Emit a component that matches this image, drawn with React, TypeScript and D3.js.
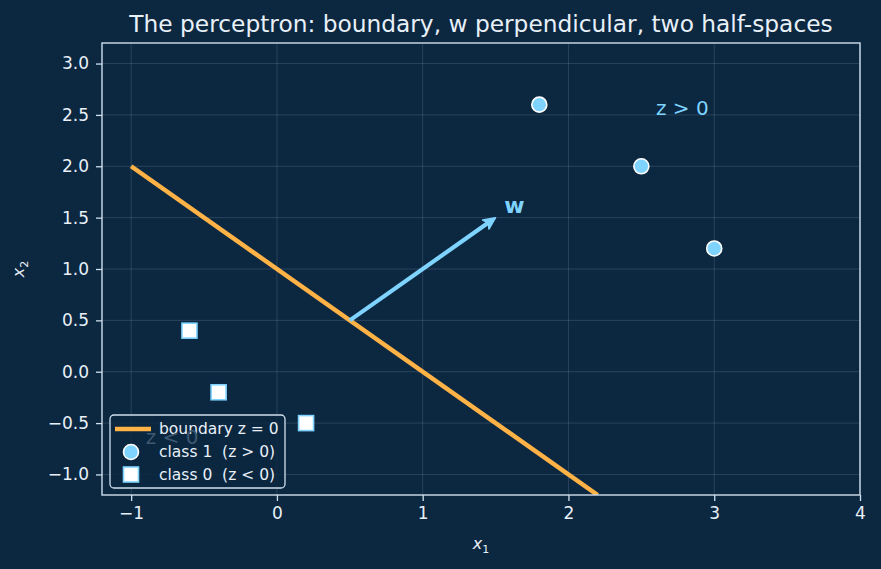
import React, { useEffect, useRef } from 'react';
import * as d3 from 'd3';

// points on either side of the boundary x1 + x2 = 1
const class1X = [1.8, 2.5, 3.0];
const class1Y = [2.6, 2.0, 1.2];
const class0X = [-0.6, -0.4, 0.2];
const class0Y = [0.4, -0.2, -0.5];
const boundaryX = [-1.0, 2.2];
const boundaryY = [2.0, -1.2];
const wStart = [0.5, 0.5];
const wEnd = [1.5, 1.5];
const xTicks = [-1, 0, 1, 2, 3, 4];
const yTicks = [-1.0, -0.5, 0.0, 0.5, 1.0, 1.5, 2.0, 2.5, 3.0];
const legendLabels = ['boundary z = 0', 'class 1  (z > 0)', 'class 0  (z < 0)'];

const BG = '#0c2740';
const FG = '#e8f0f8';
const ORANGE = '#ffb347';
const BLUE = '#7fd3ff';

export default function App() {
  const svgRef = useRef<SVGSVGElement>(null);

  useEffect(() => {
    const svg = d3.select(svgRef.current);
    svg.selectAll('*').remove();

    const W = 881, H = 569;
    const margin = { top: 43, right: 21, bottom: 74, left: 102 };
    const x = d3.scaleLinear().domain([-1.2, 4]).range([margin.left, W - margin.right]);
    const y = d3.scaleLinear().domain([-1.2, 3.2]).range([H - margin.bottom, margin.top]);
    const font = 'DejaVu Sans, sans-serif';

    svg.append('rect').attr('width', W).attr('height', H).attr('fill', BG);

    svg.append('defs').append('clipPath').attr('id', 'plot')
      .append('rect')
      .attr('x', margin.left).attr('y', margin.top)
      .attr('width', W - margin.left - margin.right)
      .attr('height', H - margin.top - margin.bottom);

    // grid
    const grid = svg.append('g').attr('stroke', '#9fb4c8').attr('stroke-opacity', 0.25).attr('stroke-width', 0.8);
    xTicks.forEach(t => grid.append('line').attr('x1', x(t)).attr('x2', x(t)).attr('y1', y(-1.2)).attr('y2', y(3.2)));
    yTicks.forEach(t => grid.append('line').attr('y1', y(t)).attr('y2', y(t)).attr('x1', x(-1.2)).attr('x2', x(4)));

    const plot = svg.append('g').attr('clip-path', 'url(#plot)');

    // region label for the positive side
    plot.append('text').attr('x', x(2.6)).attr('y', y(2.5)).attr('fill', BLUE)
      .attr('font-family', font).attr('font-size', 20).text('z > 0');

    // decision boundary
    plot.append('line')
      .attr('x1', x(boundaryX[0])).attr('y1', y(boundaryY[0]))
      .attr('x2', x(boundaryX[1])).attr('y2', y(boundaryY[1]))
      .attr('stroke', ORANGE).attr('stroke-width', 4.5);

    // weight vector arrow
    const x0 = x(wStart[0]), y0 = y(wStart[1]), x1 = x(wEnd[0]), y1 = y(wEnd[1]);
    const ang = Math.atan2(y1 - y0, x1 - x0);
    const ca = Math.cos(ang), sa = Math.sin(ang);
    const head = 12;
    const bx = x1 - head * ca, by = y1 - head * sa;
    plot.append('line').attr('x1', x0).attr('y1', y0).attr('x2', bx + 3 * ca).attr('y2', by + 3 * sa)
      .attr('stroke', BLUE).attr('stroke-width', 4.2);
    const px = -sa, py = ca;
    plot.append('path')
      .attr('d', `M${x1},${y1} L${bx + 5.5 * px},${by + 5.5 * py} L${bx + 3 * ca},${by + 3 * sa} L${bx - 5.5 * px},${by - 5.5 * py} Z`)
      .attr('fill', BLUE).attr('stroke', BLUE).attr('stroke-width', 1.5).attr('stroke-linejoin', 'round');
    plot.append('text').attr('x', x(1.56)).attr('y', y(1.55)).attr('fill', BLUE)
      .attr('font-family', font).attr('font-size', 22).attr('font-weight', 'bold').text('w');

    // points
    plot.selectAll('circle.c1').data(class1X).enter().append('circle')
      .attr('cx', (d) => x(d)).attr('cy', (_d, i) => y(class1Y[i])).attr('r', 7.5)
      .attr('fill', BLUE).attr('stroke', 'white').attr('stroke-width', 1.6);
    plot.selectAll('rect.c0').data(class0X).enter().append('rect')
      .attr('x', (d) => x(d) - 7.5).attr('y', (_d, i) => y(class0Y[i]) - 7.5).attr('width', 15).attr('height', 15)
      .attr('fill', 'white').attr('stroke', BLUE).attr('stroke-width', 1.6);

    // frame
    svg.append('rect').attr('x', margin.left).attr('y', margin.top)
      .attr('width', W - margin.left - margin.right).attr('height', H - margin.top - margin.bottom)
      .attr('fill', 'none').attr('stroke', '#cfe0ee').attr('stroke-width', 1.4);

    // axes
    const minus = (s: string) => s.replace('-', '−');
    const xAxis = svg.append('g').attr('transform', `translate(0,${H - margin.bottom})`)
      .call(d3.axisBottom(x).tickValues(xTicks).tickSize(6).tickPadding(6).tickFormat((d) => minus(d3.format('d')(d as number))));
    const yAxis = svg.append('g').attr('transform', `translate(${margin.left},0)`)
      .call(d3.axisLeft(y).tickValues(yTicks).tickSize(6).tickPadding(7).tickFormat((d) => minus(d3.format('.1f')(d as number))));
    [xAxis, yAxis].forEach(a => {
      a.select('.domain').remove();
      a.selectAll('line').attr('stroke', '#cfe0ee').attr('stroke-width', 1.3);
      a.selectAll('text').attr('fill', FG).attr('font-family', font).attr('font-size', 17);
    });

    // axis labels
    const xl = svg.append('text').attr('x', (margin.left + W - margin.right) / 2).attr('y', 549)
      .attr('text-anchor', 'middle').attr('fill', FG).attr('font-family', font).attr('font-size', 16).attr('font-style', 'italic');
    xl.append('tspan').text('x');
    xl.append('tspan').attr('font-size', 11).attr('dy', 4).attr('font-style', 'normal').text('1');
    const yl = svg.append('text').attr('transform', `translate(24,${(margin.top + H - margin.bottom) / 2}) rotate(-90)`)
      .attr('text-anchor', 'middle').attr('fill', FG).attr('font-family', font).attr('font-size', 16).attr('font-style', 'italic');
    yl.append('tspan').text('x');
    yl.append('tspan').attr('font-size', 11).attr('dy', 4).attr('font-style', 'normal').text('2');

    // title
    svg.append('text').attr('x', (margin.left + W - margin.right) / 2).attr('y', 32)
      .attr('text-anchor', 'middle').attr('fill', FG).attr('font-family', font).attr('font-size', 23.3)
      .text('The perceptron: boundary, w perpendicular, two half-spaces');

    // legend
    const lg = svg.append('g').attr('transform', 'translate(110,415)');
    lg.append('rect').attr('width', 175).attr('height', 73).attr('rx', 4)
      .attr('fill', BG).attr('fill-opacity', 0.85).attr('stroke', '#cfe0ee').attr('stroke-width', 1.3);

    // negative-side label, dimmed where the legend sits over it
    svg.append('text').attr('x', x(-0.9)).attr('y', y(-0.7)).attr('fill', '#3d5870')
      .attr('font-family', font).attr('font-size', 20).text('z < 0');

    lg.append('line').attr('x1', 5).attr('x2', 41).attr('y1', 14).attr('y2', 14).attr('stroke', ORANGE).attr('stroke-width', 4.5);
    lg.append('circle').attr('cx', 21).attr('cy', 37).attr('r', 7.5).attr('fill', BLUE).attr('stroke', 'white').attr('stroke-width', 1.6);
    lg.append('rect').attr('x', 13.5).attr('y', 52).attr('width', 15).attr('height', 15).attr('fill', 'white').attr('stroke', BLUE).attr('stroke-width', 1.6);
    legendLabels.forEach((t, i) => {
      lg.append('text').attr('x', 49).attr('y', 19 + i * 23).attr('fill', FG)
        .attr('font-family', font).attr('font-size', 15.5).style('white-space', 'pre').text(t);
    });
  }, []);

  return <svg ref={svgRef} width={881} height={569} style={{ display: 'block', position: 'absolute', left: 0, top: 0 }} />;
}
